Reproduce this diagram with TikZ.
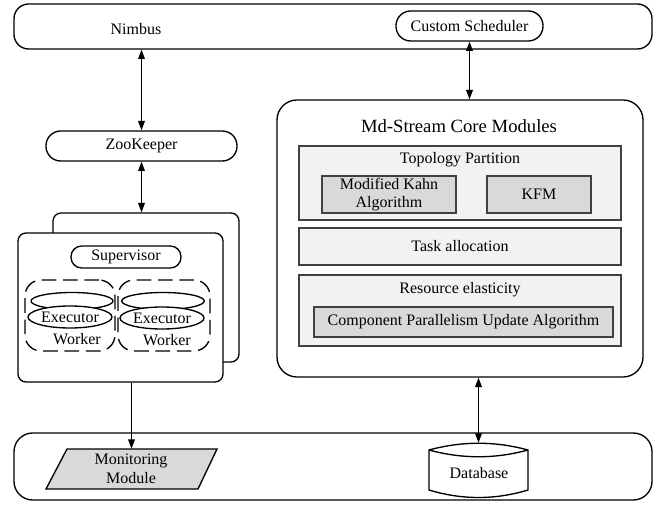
\documentclass[tikz,border=0pt]{standalone}
\usepackage{fontspec}
\setmainfont{Liberation Serif}
\usetikzlibrary{fit,arrows.meta,shapes.geometric}
\begin{document}
\begin{tikzpicture}[x=0.75pt,y=-0.75pt,
  every node/.style={font=\fontsize{12}{14}\selectfont},
  txt/.style={inner sep=0pt, align=center},
  frame/.style={draw, line width=1pt, inner sep=0pt},
  pill/.style={frame, rounded corners=11pt},
  panel/.style={draw=black!75, line width=1pt, fill=black!5, inner sep=0pt},
  algo/.style={draw=black!75, line width=1pt, fill=black!15, inner sep=0pt},
  group/.style={draw, line width=1pt, dash pattern=on 11pt off 5pt, rounded corners=12pt, inner sep=0pt},
  exec/.style={ellipse, draw, line width=1pt, fill=white, inner sep=0pt},
  link/.style={line width=1pt, {Triangle[length=7pt,width=5pt]}-{Triangle[length=7pt,width=5pt]}},
  feed/.style={line width=1pt, -{Triangle[length=7pt,width=5pt]}}
]
\useasboundingbox (0,0) rectangle (666,505);

% Top bar: Nimbus with the custom scheduler
\node[frame, rounded corners=11pt, fit={(14,4) (652,49)}] (nimbus) {};
\node[txt] (nimbuslabel) at (136,29) {Nimbus};
\node[pill, fit={(396,11) (543,41)}] (cs) {};
\node[txt] (cslabel) at (cs.center) {Custom Scheduler};

% ZooKeeper
\node[pill, fit={(46,131) (237,161)}] (zk) {};
\node[txt] (zklabel) at (zk.center) {ZooKeeper};

% Supervisor nodes (stacked)
\node[frame, rounded corners=6pt, fill=white, fit={(53,213) (239,362)}] (back) {};
\node[frame, rounded corners=6pt, fill=white, fit={(18,233) (223,382)}] (front) {};
\node[pill, rounded corners=8pt, fit={(71,246) (181,268)}] (sup) {};
\node[txt] (suplabel) at (sup.center) {Supervisor};

% Workers with executors
\node[group, fit={(25,280) (115,351)}] (w1) {};
\node[group, fit={(118,280) (210,351)}] (w2) {};
\node[exec, minimum width=61.5pt, minimum height=12.75pt] (e1b) at (72,301) {};
\node[exec, minimum width=63pt, minimum height=16.5pt] (e1) at (70,317) {};
\node[txt] (e1label) at (e1.center) {Executor};
\node[exec, minimum width=62pt, minimum height=12.75pt] (e2b) at (163,301) {};
\node[exec, minimum width=63pt, minimum height=16.5pt] (e2) at (162,318) {};
\node[txt] (e2label) at (e2.center) {Executor};
\node[txt] (wk1) at (77,339) {Worker};
\node[txt] (wk2) at (167,340) {Worker};

% Md-Stream core modules
\node[frame, rounded corners=15pt, fit={(277,100) (643,377)}] (core) {};
\node[txt, font=\fontsize{14}{16}\selectfont] (coretitle) at (459,126) {Md-Stream Core Modules};

\node[panel, fit={(299,146) (621,220)}] (topo) {};
\node[txt] (topotitle) at (460,160) {Topology Partition};
\node[algo, fit={(322,176) (456,213)}] (kahn) {};
\node[txt] (kahnlabel) at (kahn.center) {Modified Kahn\\Algorithm};
\node[algo, fit={(487,176) (591,213)}] (kfm) {};
\node[txt] (kfmlabel) at (kfm.center) {KFM};

\node[panel, fit={(299,228) (621,265)}] (task) {};
\node[txt] (tasklabel) at (task.center) {Task allocation};

\node[panel, fit={(299,275) (621,346)}] (res) {};
\node[txt] (restitle) at (460,290) {Resource elasticity};
\node[algo, fit={(314,307) (613,337)}] (cpua) {};
\node[txt] (cpualabel) at (cpua.center) {Component Parallelism Update Algorithm};

% Bottom bar: monitoring and storage
\node[frame, rounded corners=14pt, fit={(14,433) (652,500)}] (base) {};
\draw[line width=1pt, fill=black!15] (67,449) -- (217,449) -- (198,489) -- (46,489) -- cycle;
\node[inner sep=0pt, fit={(46,449) (217,489)}] (mon) {};
\node[txt] (monlabel) at (131,469) {Monitoring\\Module};

\draw[line width=1pt, fill=white]
  (429,450) -- (429,490) .. controls (462,500) and (495,500) .. (528,490) -- (528,450)
  .. controls (495,441) and (462,441) .. (429,450) -- cycle;
\draw[line width=1pt] (429,450) .. controls (462,459) and (495,459) .. (528,450);
\node[inner sep=0pt, fit={(429,443) (528,498)}] (db) {};
\node[txt] (dblabel) at (479,473) {Database};

% Connectors
\draw[link] (zk.north |- nimbus.south) -- (zk.north);
\draw[link] (cs.south) -- (cs.south |- core.north);
\draw[link] (zk.south) -- (zk.south |- back.north);
\draw[feed] (mon.north |- front.south) -- (mon.north);
\draw[link] (db.north |- core.south) -- (db.north);
\end{tikzpicture}
\end{document}
